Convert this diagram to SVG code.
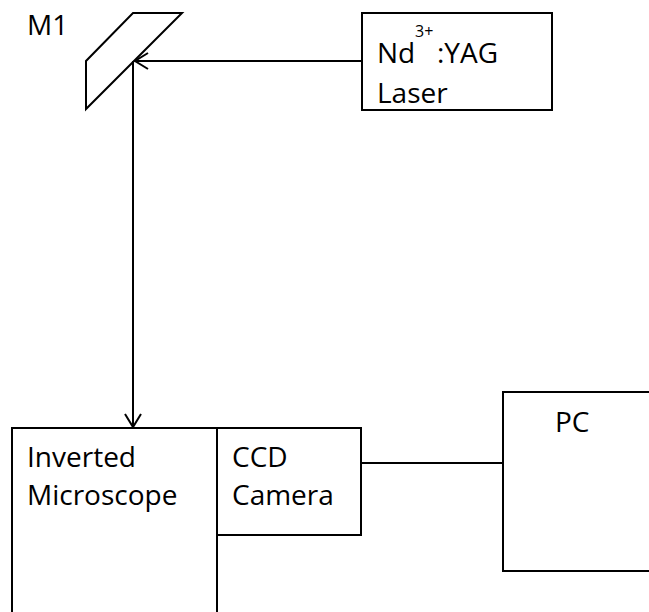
<svg xmlns="http://www.w3.org/2000/svg" width="649" height="612" viewBox="0 0 649 612">
<style>
.box{fill:#fff;stroke:#000;stroke-width:2}
.ln{fill:none;stroke:#000;stroke-width:2}
text{font-family:"Open Sans","Liberation Sans",sans-serif;font-size:28px;fill:#000}
.sup{font-size:16px}
</style>
<defs>
<marker id="arr" markerUnits="userSpaceOnUse" markerWidth="20" markerHeight="20" viewBox="-15 -10 20 20" refX="0" refY="0" orient="auto">
<path d="M -13,-8 L 0,0 L -13,8" fill="none" stroke="#000" stroke-width="2"/>
</marker>
</defs>
<rect width="649" height="612" fill="#fff"/>
<g id="mirror">
<polygon class="box" points="133,13 182,13 86,109 86,61"/>
<text x="27" y="35">M1</text>
</g>
<g id="laser">
<rect class="box" x="362" y="13" width="190" height="97"/>
<text x="377" y="63">Nd</text>
<text class="sup" x="415" y="37">3+</text>
<text x="437" y="63">:YAG</text>
<text x="377" y="103">Laser</text>
</g>
<g id="microscope">
<path class="box" d="M12,613 V428 H217 V613"/>
<text x="27" y="467">Inverted</text>
<text x="27" y="505">Microscope</text>
</g>
<g id="camera">
<rect class="box" x="217" y="428" width="144" height="107"/>
<text x="232" y="467">CCD</text>
<text x="232" y="505">Camera</text>
</g>
<g id="pc">
<rect class="box" x="503" y="392" width="160" height="179"/>
<text x="555" y="432">PC</text>
</g>
<g id="connectors">
<path class="ln" d="M362,61 H135" marker-end="url(#arr)"/>
<path class="ln" d="M133,61 V427" marker-end="url(#arr)"/>
<path class="ln" d="M361,463 H503"/>
</g>
</svg>
